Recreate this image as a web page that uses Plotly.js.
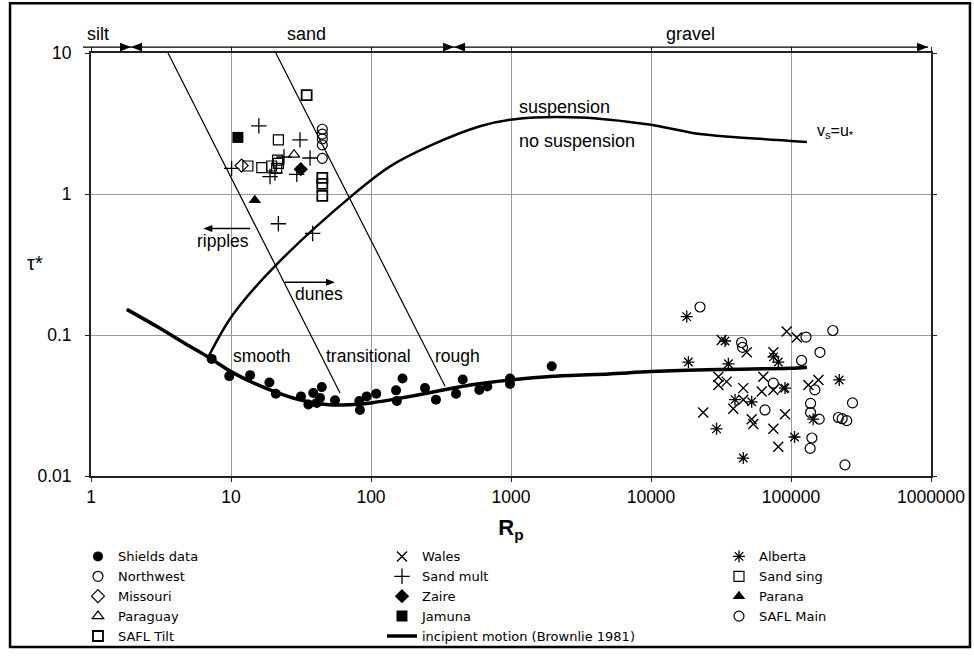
<!DOCTYPE html>
<html><head><meta charset="utf-8">
<script src="https://cdn.plot.ly/plotly-3.0.1.min.js"></script>
<style>html,body{margin:0;padding:0;background:#fff}#chart{width:974px;height:663px}</style>
</head><body><div id="chart"></div>
<script>
// ---------- data ----------
const shieldsRp  = [7.28, 9.72, 13.7, 18.8, 20.9, 31.6, 35.7, 38.7, 44.5, 43.2, 41, 55.3, 83.4, 82.5, 93.1, 109, 151, 153, 168, 243, 291, 405, 452, 594, 677, 984, 984, 1954];
const shieldsTau = [0.0677, 0.0511, 0.0519, 0.046, 0.0383, 0.0367, 0.0321, 0.0388, 0.0427, 0.0358, 0.033, 0.0345, 0.0294, 0.034, 0.0367, 0.0383, 0.0405, 0.034, 0.0492, 0.042, 0.0348, 0.0383, 0.0484, 0.0408, 0.0431, 0.0492, 0.045, 0.060];

const northwestRp  = [22400, 199000, 128000, 44400, 45100, 161000, 119000, 74800, 148000, 65200, 138000, 138000, 159000, 218000, 250000, 275000, 141000, 137000, 243000, 232000];
const northwestTau = [0.158, 0.1076, 0.0967, 0.0885, 0.0817, 0.0754, 0.066, 0.0455, 0.0408, 0.0294, 0.0327, 0.0282, 0.0253, 0.026, 0.0247, 0.033, 0.0186, 0.0157, 0.012, 0.0255];

const missouriRp = [11.9];   const missouriTau = [1.59];
const paraguayRp = [28.2];   const paraguayTau = [1.9];
const saflTiltRp  = [34.7, 44.9, 44.9, 44.9];
const saflTiltTau = [5.03, 1.30, 1.18, 0.97];

const walesRp  = [93100, 110000, 30300, 34700, 30300, 45600, 63400, 61800, 74800, 23600, 52400, 53800, 74800, 81100, 90600, 157000, 133000, 74800, 48300, 45600, 38700, 88100, 32000];
const walesTau = [0.106, 0.096, 0.0506, 0.0467, 0.0442, 0.042, 0.0506, 0.0398, 0.0408, 0.0282, 0.0253, 0.0234, 0.0216, 0.0161, 0.0274, 0.048, 0.0442, 0.0754, 0.0754, 0.0348, 0.030, 0.042, 0.092];

const sandMultRp  = [15.8, 31.1, 23.9, 36.7, 10.1, 19.0, 20.6, 29.5, 21.8, 38.3];
const sandMultTau = [3.04, 2.42, 1.83, 1.80, 1.52, 1.33, 1.41, 1.38, 0.615, 0.525];

const zaireRp  = [31.5];  const zaireTau  = [1.50];
const jamunaRp = [11.2];  const jamunaTau = [2.52];

const albertaRp  = [18000, 33800, 18500, 35700, 81100, 39800, 52400, 29400, 90600, 106000, 45600, 221000, 144000, 75000];
const albertaTau = [0.135, 0.0907, 0.0643, 0.0625, 0.0643, 0.0348, 0.0336, 0.0216, 0.042, 0.0189, 0.0134, 0.048, 0.0253, 0.070];

const sandSingRp  = [21.8, 13.2, 16.6, 19.5, 21.8, 21.2, 21.5];
const sandSingTau = [2.42, 1.58, 1.54, 1.58, 1.65, 1.52, 1.74];

const paranaRp = [14.8];  const paranaTau = [0.903];

const saflMainRp  = [44.9, 44.9, 44.9, 44.9, 44.9];
const saflMainTau = [2.88, 2.66, 2.46, 2.23, 1.79];

// Brownlie (1981) incipient motion curve
const brownlieRp  = [1.8, 3, 5, 7, 10, 15, 20, 30, 50, 70, 100, 200, 500, 1000, 2000, 5000, 10000, 30000, 100000, 130000];
const brownlieTau = [0.152, 0.114, 0.084, 0.069, 0.055, 0.045, 0.040, 0.035, 0.032, 0.032, 0.033, 0.037, 0.044, 0.048, 0.051, 0.053, 0.055, 0.057, 0.058, 0.059];

// suspension criterion vs = u*
const suspRp  = [6.9, 10.3, 20.6, 74.6, 137, 265, 600, 1030, 3100, 9400, 22400, 38500, 130000];
const suspTau = [0.07, 0.139, 0.308, 0.99, 1.57, 2.2, 3.02, 3.38, 3.49, 3.12, 2.66, 2.54, 2.34];

// bed-form / roughness boundary lines
const line1Rp = [3.55, 60.1];  const line1Tau = [10, 0.0388];
const line2Rp = [20.9, 338];   const line2Tau = [10, 0.0433];

// grain size classes: line ends and class boundaries (Rp), labels
const classEdgesRp = [0.877, 1.93, 392, 952000];
const classLabels  = ['silt', 'sand', 'gravel'];
const classLabelRp = [1.12, 34.4, 19000];

// ripples / dunes arrows: [tail Rp, tip Rp], tau
const ripplesArrowRp = [13.7, 6.34]; const ripplesArrowTau = 0.569;
const dunesArrowRp   = [24.3, 55.3]; const dunesArrowTau   = 0.2366;

const xTickVals = [1, 10, 100, 1000, 10000, 100000, 1000000];
const xTickText = ['1', '10', '100', '1000', '10000', '100000', '1000000'];
const yTickVals = [0.01, 0.1, 1, 10];
const yTickText = ['0.01', '0.1', '1', '10'];

// ---------- traces ----------
function pts(name, x, y, symbol, size, lw, legend) {
  return {type: 'scatter', mode: 'markers', name: name, x: x, y: y, legend: legend,
    marker: {symbol: symbol, size: size, color: '#000', line: {color: '#000', width: lw}},
    cliponaxis: false, hoverinfo: 'x+y+name'};
}
const traces = [
  pts('Shields data', shieldsRp, shieldsTau, 'circle', 10, 0, 'legend'),
  pts('Northwest', northwestRp, northwestTau, 'circle-open', 10, 1.2, 'legend'),
  pts('Missouri', missouriRp, missouriTau, 'diamond-open', 10, 1.2, 'legend'),
  pts('Paraguay', paraguayRp, paraguayTau, 'triangle-up-open', 10, 1.2, 'legend'),
  pts('SAFL Tilt', saflTiltRp, saflTiltTau, 'square-open', 10, 1.8, 'legend'),
  pts('Wales', walesRp, walesTau, 'x-thin-open', 10, 1.4, 'legend2'),
  pts('Sand mult', sandMultRp, sandMultTau, 'cross-thin-open', 11, 1.3, 'legend2'),
  pts('Zaire', zaireRp, zaireTau, 'diamond', 11, 0, 'legend2'),
  pts('Jamuna', jamunaRp, jamunaTau, 'square', 11, 0, 'legend2'),
  {type: 'scatter', mode: 'lines', name: 'incipient motion (Brownlie 1981)', x: brownlieRp, y: brownlieTau,
    line: {color: '#000', width: 3.5, shape: 'spline', smoothing: 0.8}, legend: 'legend2'},
  pts('Alberta', albertaRp, albertaTau, 'asterisk-open', 10, 1.3, 'legend3'),
  pts('Sand sing', sandSingRp, sandSingTau, 'square-open', 10, 1.2, 'legend3'),
  pts('Parana', paranaRp, paranaTau, 'triangle-up', 11, 0, 'legend3'),
  pts('SAFL Main', saflMainRp, saflMainTau, 'circle-open', 10, 1.2, 'legend3'),
  {type: 'scatter', mode: 'lines', x: suspRp, y: suspTau, showlegend: false,
    line: {color: '#000', width: 2.5, shape: 'spline', smoothing: 1}, hoverinfo: 'x+y'},
  {type: 'scatter', mode: 'lines', x: line1Rp, y: line1Tau, showlegend: false,
    line: {color: '#000', width: 1.2}, hoverinfo: 'x+y'},
  {type: 'scatter', mode: 'lines', x: line2Rp, y: line2Tau, showlegend: false,
    line: {color: '#000', width: 1.2}, hoverinfo: 'x+y'}
];

// ---------- geometry helpers (plot area 840 x 433 px, x range 0..6, y range -2..1) ----------
const L = Math.log10;
const PW = 840, PH = 433;
const XP = rp => L(rp) / 6;            // data -> paper x
const YP = t => (L(t) + 2) / 3;        // data -> paper y
const topLineY = 1.0139;               // paper y of the size-class line

function head(xTip, y, dir, lenPx, halfPx) {   // filled triangle, dir = +1 right, -1 left
  const xb = xTip - dir * lenPx / PW, h = halfPx / PH;
  return {type: 'path', xref: 'paper', yref: 'paper', fillcolor: '#000', line: {width: 0},
    path: `M ${xTip},${y} L ${xb},${y + h} L ${xb},${y - h} Z`};
}
const shapes = [
  {type: 'rect', xref: 'paper', yref: 'paper', x0: -0.0964, x1: 1.0464, y0: -0.4042, y1: 1.1178,
    line: {color: '#000', width: 2.5}},
  {type: 'line', xref: 'paper', yref: 'paper', x0: XP(classEdgesRp[0]), x1: XP(classEdgesRp[3]),
    y0: topLineY, y1: topLineY, line: {color: '#000', width: 1.2}},
  head(XP(classEdgesRp[1]), topLineY, 1, 11, 4.5),
  head(XP(classEdgesRp[1]), topLineY, -1, 11, 4.5),
  head(XP(classEdgesRp[2]), topLineY, 1, 11, 4.5),
  head(XP(classEdgesRp[2]), topLineY, -1, 11, 4.5),
  head(XP(classEdgesRp[3]), topLineY, 1, 11, 4.5),
  {type: 'line', xref: 'paper', yref: 'paper', x0: XP(ripplesArrowRp[0]), x1: XP(ripplesArrowRp[1]) + 6 / PW,
    y0: YP(ripplesArrowTau), y1: YP(ripplesArrowTau), line: {color: '#000', width: 1.5}},
  head(XP(ripplesArrowRp[1]), YP(ripplesArrowTau), -1, 9, 3.5),
  {type: 'line', xref: 'paper', yref: 'paper', x0: XP(dunesArrowRp[0]), x1: XP(dunesArrowRp[1]) - 6 / PW,
    y0: YP(dunesArrowTau), y1: YP(dunesArrowTau), line: {color: '#000', width: 1.5}},
  head(XP(dunesArrowRp[1]), YP(dunesArrowTau), 1, 9, 3.5)
];

// ---------- annotations ----------
const txt = (t, x, y, extra) => Object.assign({text: t, x: x, y: y, xref: 'x', yref: 'y',
  xanchor: 'center', yanchor: 'middle', showarrow: false, font: {size: 17.5, color: '#000'}}, extra || {});
const f18 = {size: 18, color: '#000'};
const annotations = [
  txt(classLabels[0], L(classLabelRp[0]), 1.044, {yref: 'paper', font: f18}),
  txt(classLabels[1], L(classLabelRp[1]), 1.044, {yref: 'paper', font: f18}),
  txt(classLabels[2], L(classLabelRp[2]), 1.044, {yref: 'paper', font: f18}),
  txt('suspension', L(1104), 0.619, {xanchor: 'left', font: f18}),
  txt('no suspension', L(1104), 0.376, {xanchor: 'left', font: f18}),
  txt('v<sub>s</sub>=u<sub>*</sub>', L(148000), 0.446, {xanchor: 'left', font: {size: 16, color: '#000'}}),
  txt('ripples', L(8.77), -0.331),
  txt('dunes', L(42.6), -0.712),
  txt('smooth', L(16.6), -1.148),
  txt('transitional', L(95.3), -1.148),
  txt('rough', L(418), -1.148),
  {text: 'τ*', x: -0.0667, y: 0.5035, xref: 'paper', yref: 'paper', xanchor: 'center', yanchor: 'middle',
    showarrow: false, font: {size: 20, color: '#000'}}
];

const axisCommon = {type: 'log', showgrid: true, gridcolor: '#999', gridwidth: 1,
  showline: true, mirror: 'all', linecolor: '#222', linewidth: 2,
  ticks: 'outside', ticklen: 4, tickcolor: '#222', tickfont: {size: 17.5, color: '#000'}, zeroline: false};

const legendBase = {xanchor: 'left', yanchor: 'top', y: -0.1547, bgcolor: 'rgba(0,0,0,0)',
  font: {size: 13, color: '#000', family: '"DejaVu Sans", "Liberation Sans", Arial, sans-serif'},
  traceorder: 'normal', itemclick: false, itemdoubleclick: false};

const layout = {
  width: 974, height: 663,
  margin: {l: 91, r: 43, t: 53, b: 177},
  paper_bgcolor: '#fff', plot_bgcolor: '#fff',
  font: {family: '"Liberation Sans", Arial, Helvetica, sans-serif', color: '#000'},
  xaxis: Object.assign({}, axisCommon, {range: [0, 6], tickvals: xTickVals, ticktext: xTickText,
    ticklabelstandoff: 0,
    title: {text: '<b>R<sub>p</sub></b>', font: {size: 22, color: '#000'}, standoff: 14}}),
  yaxis: Object.assign({}, axisCommon, {range: [-2, 1], tickvals: yTickVals, ticktext: yTickText,
    ticklabelstandoff: 10}),
  legend:  Object.assign({}, legendBase, {x: -0.0155}),
  legend2: Object.assign({}, legendBase, {x: 0.3464}),
  legend3: Object.assign({}, legendBase, {x: 0.7476}),
  annotations: annotations,
  shapes: shapes,
  showlegend: true
};

Plotly.newPlot('chart', traces, layout, {displayModeBar: false});
</script>
</body></html>
